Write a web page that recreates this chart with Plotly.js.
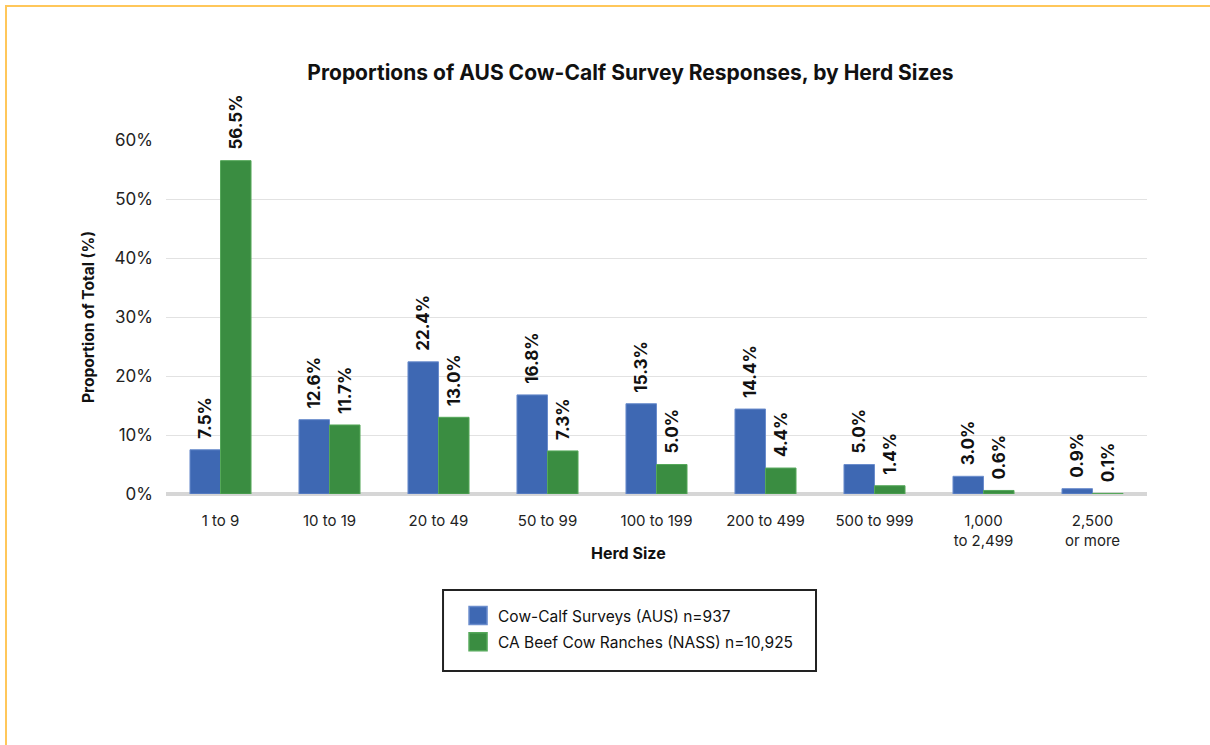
<!DOCTYPE html>
<html><head><meta charset="utf-8">
<script src="https://cdn.plot.ly/plotly-3.0.1.min.js"></script>
<style>
html,body{margin:0;padding:0;background:#fff;}
#frame{position:absolute;left:5px;top:5px;width:1205px;height:740px;border-top:2px solid #ffc75a;border-left:2px solid #ffc75a;box-sizing:border-box;}
#chart{position:absolute;left:0;top:0;width:1210px;height:745px;}
</style></head>
<body>
<div id="frame"></div>
<div id="chart"></div>
<script>
const categories = ["1 to 9","10 to 19","20 to 49","50 to 99","100 to 199","200 to 499","500 to 999","1,000<br>to 2,499","2,500<br>or more"];
const ausValues = [7.5,12.6,22.4,16.8,15.3,14.4,5.0,3.0,0.9];
const nassValues = [56.5,11.7,13.0,7.3,5.0,4.4,1.4,0.6,0.1];
const seriesNames = ["Cow-Calf Surveys (AUS) n=937","CA Beef Cow Ranches (NASS) n=10,925"];
const yTicks = [0,10,20,30,40,50,60];
const yTickLabels = ["0%","10%","20%","30%","40%","50%","60%"];

const FONT = "Inter, 'Liberation Sans', Arial, sans-serif";
function mk(vals, name, color, line, grp){
  return {
    type:"bar", x:categories, y:vals, name:name, legendgroup:grp,
    marker:{color:color, line:{color:line, width:1}},
    text:vals.map(v=>"\u00a0\u00a0"+v.toFixed(1)+"%"),
    textposition:"outside", textangle:-90, constraintext:"none", cliponaxis:false,
    textfont:{family:FONT, size:17, color:"#111", weight:"bold"},
    hoverinfo:"x+y"
  };
}
const data = [mk(ausValues, seriesNames[0], "#3e68b3", "#6a8ccc", "a"), mk(nassValues, seriesNames[1], "#3a8d41", "#55a85a", "b")];
const layout = {
  width:1210, height:745,
  paper_bgcolor:"rgba(0,0,0,0)", plot_bgcolor:"rgba(0,0,0,0)",
  margin:{l:166, r:63, t:140, b:251},
  font:{family:FONT, color:"#111"},
  title:{text:"<b>Proportions of AUS Cow-Calf Survey Responses, by Herd Sizes</b>", font:{size:21, family:FONT, color:"#111"}, xref:"container", x:0.521, xanchor:"center", yref:"container", y:0.902, yanchor:"middle"},
  barmode:"group", bargap:0.44, bargroupgap:0,
  xaxis:{type:"category", tickfont:{size:15, family:FONT, color:"#222"}, showgrid:false, showline:false, ticks:"", ticklabelstandoff:16},
  yaxis:{range:[0,60], tickvals:yTicks, ticktext:yTickLabels, tickfont:{size:17, family:FONT, color:"#222"},
    gridcolor:"#e2e2e2", gridwidth:1, zeroline:true, zerolinecolor:"#d6d6d6", zerolinewidth:4, ticklabelstandoff:12,
    title:{text:"<b>Proportion of Total (%)</b>", font:{size:15.5, family:FONT, color:"#111"}, standoff:16}},
  annotations:[{text:"<b>Herd Size</b>", xref:"paper", yref:"paper", x:0.471, y:-0.1667, xanchor:"center", yanchor:"middle", showarrow:false, font:{size:16, family:FONT, color:"#111"}}],
  shapes:[{type:"rect", xref:"paper", yref:"paper", x0:0.2824, x1:0.6626, y0:-0.2712, y1:-0.5, line:{color:"#222", width:2}, fillcolor:"rgba(0,0,0,0)"}],
  showlegend:true,
  legend:{x:0.2977, xanchor:"left", y:-0.2966, yanchor:"top", borderwidth:0, bgcolor:"rgba(0,0,0,0)",
    font:{size:15.5, family:FONT, color:"#111"}, traceorder:"grouped", tracegroupgap:3, itemwidth:30}
};
Plotly.newPlot("chart", data, layout, {displayModeBar:false, staticPlot:true}).then(gd=>{
  document.querySelectorAll('#chart .legend .legendpoints path').forEach(p=>{
    const t = p.getAttribute('transform') || '';
    p.setAttribute('transform', t + ' scale(1.5)');
  });
});
</script>
</body></html>
